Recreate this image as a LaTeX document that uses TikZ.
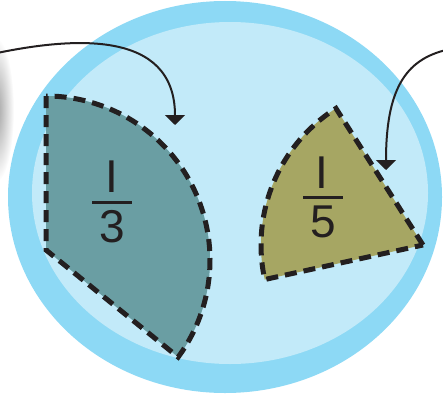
\documentclass[tikz,border=0pt]{standalone}
\usepackage{fontspec}
\setmainfont{Liberation Sans}
\usetikzlibrary{arrows.meta,calc}
\definecolor{ringblue}{HTML}{8DD9F5}
\definecolor{innerblue}{HTML}{C2EAF9}
\definecolor{tealfill}{HTML}{6A9EA3}
\definecolor{olivefill}{HTML}{A6A663}
\definecolor{inkblack}{HTML}{231F20}
\tikzset{
  piece/.style={draw=inkblack, line width=5pt, dash pattern=on 12pt off 7pt, line join=miter},
  pointer/.style={draw=inkblack, line width=2pt, -{Triangle[width=20pt,length=10pt]}},
  fracnum/.style={inner sep=0pt, text=inkblack, font=\fontsize{46}{46}\selectfont},
  fracbar/.style={draw=inkblack, line width=3pt}
}
\begin{document}
\begin{tikzpicture}[x=1pt,y=1pt]
\useasboundingbox (0,0) rectangle (443,400);
% shadow at left edge
\shade[inner color=gray!75, outer color=white] (-4,290) ellipse [x radius=18, y radius=72];
% ellipses
\fill[ringblue] (225,203) ellipse [x radius=217, y radius=196];
\fill[innerblue] (230,207) ellipse [x radius=198, y radius=171];
% left piece (one third)
\coordinate (lc) at (46,140);
\coordinate (ltop) at (46,304);
\coordinate (lcorner) at (46,150);
\coordinate (lbot) at ($(lc)+(-36.3:164)$);
\path[fill=tealfill, piece] (ltop) -- (lcorner) -- (lbot) arc[start angle=-36.3, end angle=90, radius=164] -- cycle;
% right piece (one fifth)
\coordinate (rc) at (423,155);
\coordinate (rtop) at ($(rc)+(122.5:162)$);
\path[fill=olivefill, piece] (rc) -- (rtop) arc[start angle=122.5, end angle=192.3, radius=162] -- cycle;
% fractions
\node[fracnum] (lnum) at (112,223.5) {I};
\node[fracnum] (lden) at (112,173.5) {3};
\coordinate (lbarA) at (92,198);
\coordinate (lbarB) at (132,198);
\draw[fracbar] (lbarA) -- (lbarB);
\node[fracnum] (rnum) at (322,227.5) {I};
\node[fracnum] (rden) at (323,178.5) {5};
\coordinate (rbarA) at (303,203);
\coordinate (rbarB) at (343,203);
\draw[fracbar] (rbarA) -- (rbarB);
% arrows
\coordinate (lstart) at (-3,347);
\coordinate (ltip) at (175,275);
\draw[pointer] (lstart) .. controls (70,362) and (175,372) .. (ltip);
\coordinate (rstart) at (446,350);
\coordinate (rtip) at (386,230);
\draw[pointer] (rstart) .. controls (405,340) and (386,310) .. (rtip);
\end{tikzpicture}
\end{document}
